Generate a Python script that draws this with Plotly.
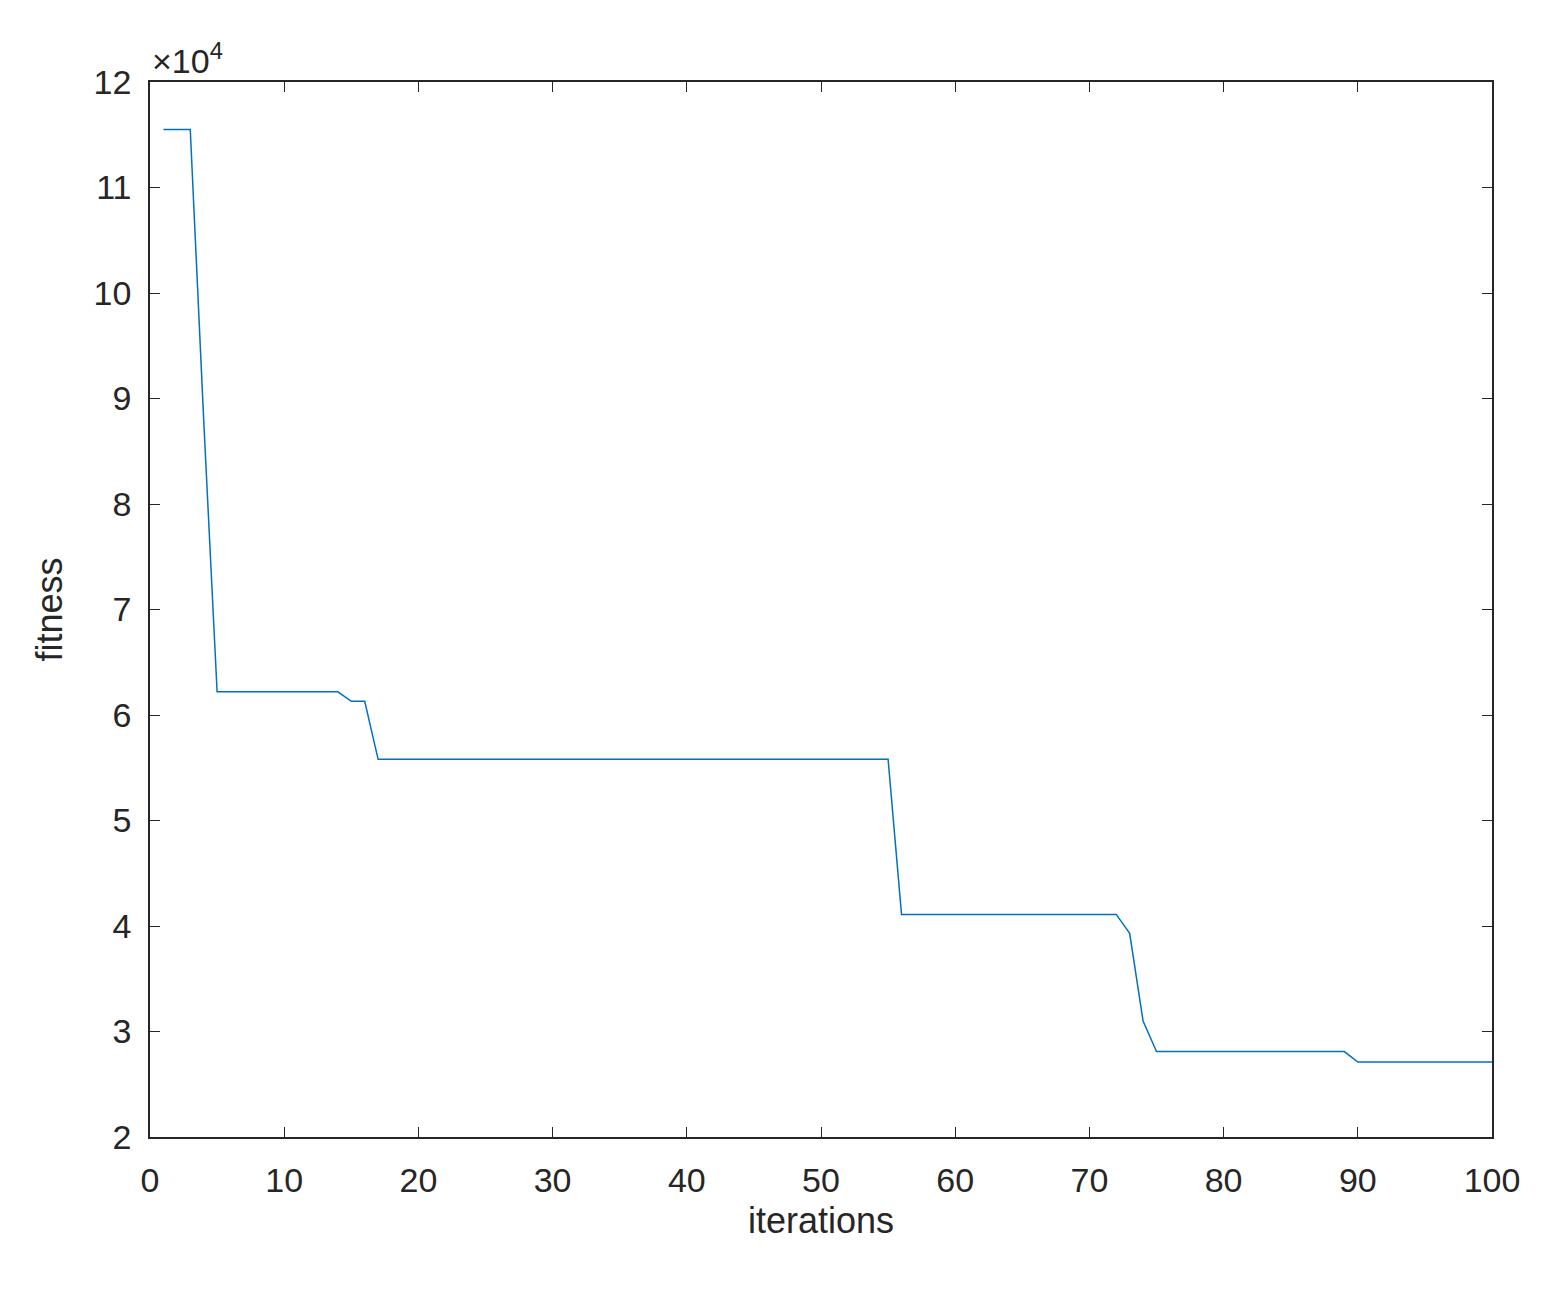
import plotly.graph_objects as go

iterations = list(range(1, 101))
fitness = ([115500]*3 + [88000] + [62200]*10 + [61300]*2 + [55800]*39 +
           [41100]*17 + [39300, 31000] + [28100]*15 + [27100]*11)
ytick_vals = [20000, 30000, 40000, 50000, 60000, 70000, 80000, 90000, 100000, 110000, 120000]
ytick_text = ["2", "3", "4", "5", "6", "7", "8", "9", "10", "11", "12"]

fig = go.Figure(go.Scatter(x=iterations, y=fitness, mode="lines",
                           line=dict(color="#0072BD", width=1.5)))
axis_common = dict(showgrid=False, zeroline=False, showline=True, mirror="ticks",
                   linecolor="#262626", linewidth=1.5, ticks="inside", ticklen=10,
                   tickcolor="#262626", tickfont=dict(size=34, color="#262626"))
fig.update_layout(
    width=1568, height=1292, paper_bgcolor="white", plot_bgcolor="white",
    margin=dict(l=142, r=84, t=74, b=163),
    font=dict(family="Liberation Sans, Arial", color="#262626"),
    showlegend=False,
    xaxis=dict(range=[0, 100], dtick=10, ticklabelstandoff=12,
               title=dict(text="iterations", font=dict(size=36), standoff=10), **axis_common),
    yaxis=dict(range=[20000, 120000], tickvals=ytick_vals, ticktext=ytick_text,
               ticklabelstandoff=10,
               title=dict(text="fitness", font=dict(size=36), standoff=20), **axis_common),
    annotations=[dict(text="×10<sup>4</sup>", xref="paper", yref="paper", x=0.0, y=1.0,
                      xanchor="left", yanchor="bottom", showarrow=False,
                      font=dict(size=34, color="#262626"))],
)
fig.write_html("out.html")
